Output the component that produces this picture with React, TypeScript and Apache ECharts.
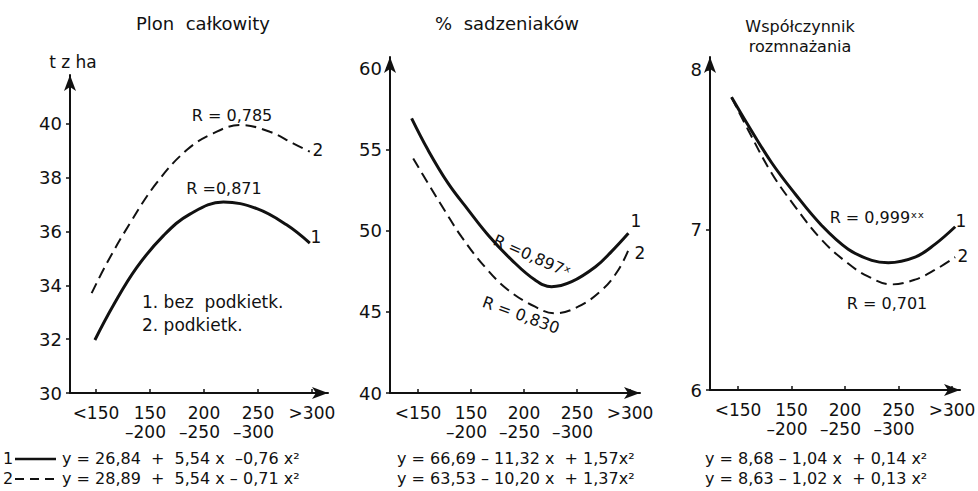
import React, { useEffect, useRef } from "react";
import * as echarts from "echarts";

// ---- data ----
const TICK_TOP = ["<150", "150", "200", "250", ">300"];
const TICK_BOTTOM = ["", "–200", "–250", "–300", ""];
const TICK_POS = [1, 2, 3, 4, 5];

// Panel 1: Plon całkowity (t z ha)
const P1_X1 = [0.98, 1.32, 1.75, 2.25, 2.74, 3.36, 3.98, 4.53, 4.96];
const P1_Y1 = [31.97, 33.25, 34.65, 35.85, 36.65, 37.1, 36.85, 36.25, 35.57];
const P1_X2 = [0.92, 1.2, 1.63, 2.12, 2.68, 3.17, 3.67, 4.22, 4.65, 4.96];
const P1_Y2 = [33.71, 34.82, 36.31, 37.8, 39.03, 39.65, 39.96, 39.71, 39.28, 38.97];
const P1_YTICKS = [30, 32, 34, 36, 38, 40];

// Panel 2: % sadzeniaków
const P2_X1 = [0.88, 1.19, 1.57, 1.95, 2.33, 2.77, 3.21, 3.52, 3.9, 4.35, 4.65, 4.97];
const P2_Y1 = [56.9, 54.95, 52.9, 51.26, 49.7, 48.18, 46.95, 46.54, 46.85, 47.77, 48.7, 49.83];
const P2_X2 = [0.91, 1.19, 1.51, 1.82, 2.26, 2.7, 3.21, 3.58, 4.02, 4.47, 4.78, 4.97];
const P2_Y2 = [54.44, 52.9, 51.2, 49.62, 47.77, 46.34, 45.31, 44.9, 45.31, 46.34, 47.57, 48.8];
const P2_YTICKS = [40, 45, 50, 55, 60];

// Panel 3: Współczynnik rozmnażania
const P3_X1 = [0.88, 1.19, 1.63, 2.07, 2.56, 3.06, 3.5, 3.81, 4.31, 4.68, 5.06];
const P3_Y1 = [7.83, 7.655, 7.42, 7.225, 7.03, 6.88, 6.81, 6.795, 6.83, 6.91, 7.02];
const P3_X2 = [0.88, 1.19, 1.63, 2.07, 2.56, 3.06, 3.43, 3.87, 4.31, 4.68, 5.06];
const P3_Y2 = [7.83, 7.625, 7.355, 7.145, 6.94, 6.79, 6.71, 6.66, 6.69, 6.75, 6.83];
const P3_YTICKS = [6, 7, 8];

const TITLES = ["Plon  całkowity", "%  sadzeniaków", "Współczynnik\nrozmnażania"];
const EQ1 = ["y = 26,84  +  5,54 x  –0,76 x²", "y = 28,89  +  5,54 x – 0,71 x²"];
const EQ2 = ["y = 66,69 – 11,32 x  + 1,57x²", "y = 63,53 – 10,20 x  + 1,37x²"];
const EQ3 = ["y = 8,68 – 1,04 x  + 0,14 x²", "y = 8,63 – 1,02 x  + 0,13 x²"];

const FONT = '"DejaVu Sans", sans-serif';
const INK = "#111";

const pairs = (xs: number[], ys: number[]) => xs.map((x, i) => [x, ys[i]]);

function App() {
  const ref = useRef<HTMLDivElement>(null);
  useEffect(() => {
    if (!ref.current) return;
    const chart = echarts.init(ref.current, null, { renderer: "svg" });

    const grids = [
      { left: 70, top: 75, width: 258, height: 318 },
      { left: 390, top: 57, width: 250, height: 336 },
      { left: 710, top: 57, width: 250, height: 333 },
    ];
    const xr = [
      [0.519, 5.297],
      [0.472, 5.189],
      [0.477, 5.15],
    ];
    const yr = [
      [30, 41.82],
      [40, 60.68],
      [6, 8.081],
    ];
    const yt = [P1_YTICKS, P2_YTICKS, P3_YTICKS];

    const axisLine = {
      show: true,
      symbol: ["none", "arrow"],
      symbolSize: [9, 16],
      lineStyle: { color: INK, width: 2 },
    };

    const xAxis = grids.map((_, i) => ({
      gridIndex: i,
      type: "value",
      min: xr[i][0],
      max: xr[i][1],
      axisLine,
      splitLine: { show: false },
      axisTick: {
        show: true,
        inside: true,
        length: 4,
        customValues: TICK_POS,
        lineStyle: { color: INK, width: 1.5 },
      },
      axisLabel: {
        customValues: TICK_POS,
        margin: 10,
        color: INK,
        fontFamily: FONT,
        fontSize: 17,
        lineHeight: 19,
        formatter: (v: number) => {
          const k = Math.round(v) - 1;
          const b = TICK_BOTTOM[k];
          return b ? TICK_TOP[k] + "\n{b|" + b + "}" : TICK_TOP[k];
        },
        rich: {
          b: {
            fontFamily: FONT,
            fontSize: 17,
            lineHeight: 19,
            color: INK,
            padding: [0, 9, 0, 0],
          },
        },
      },
    }));

    const yAxis = grids.map((_, i) => ({
      gridIndex: i,
      type: "value",
      min: yr[i][0],
      max: yr[i][1],
      axisLine,
      splitLine: { show: false },
      axisTick: {
        show: true,
        length: 4,
        customValues: yt[i],
        lineStyle: { color: INK, width: 1.5 },
      },
      axisLabel: {
        customValues: yt[i],
        margin: 8,
        color: INK,
        fontFamily: FONT,
        fontSize: 18,
      },
    }));

    const line = (i: number, data: number[][], dashed: boolean) => ({
      type: "line",
      xAxisIndex: i,
      yAxisIndex: i,
      data,
      smooth: 0.4,
      symbol: "none",
      silent: true,
      lineStyle: dashed
        ? { color: INK, width: 2, type: [11, 6] }
        : { color: INK, width: 3 },
    });

    const txt = (
      text: string,
      x: number,
      y: number,
      size: number,
      align = "center",
      rotation = 0
    ) => ({
      type: "text",
      x,
      y,
      rotation,
      silent: true,
      style: {
        text,
        fill: INK,
        font: `${size}px ${FONT}`,
        textAlign: align,
        textVerticalAlign: "middle",
        lineHeight: 20,
      },
    });
    const deg = Math.PI / 180;

    const graphic = [
      // titles
      txt(TITLES[0], 203, 23, 18),
      txt(TITLES[1], 507, 23, 18),
      txt(TITLES[2], 800, 36, 16),
      txt("t z ha", 73, 62, 17),
      // panel 1 annotations
      txt("R = 0,785", 232, 115, 16),
      txt("R =0,871", 224, 188, 16),
      txt("2", 318, 150, 17),
      txt("1", 316, 237, 17),
      txt("1. bez  podkietk.", 142, 302, 17, "left"),
      txt("2. podkietk.", 142, 325, 17, "left"),
      // panel 2 annotations
      txt("R =0,897ˣ", 532, 256, 16, "center", -24 * deg),
      txt("R = 0,830", 521, 315, 16, "center", -20 * deg),
      txt("1", 636, 221, 17),
      txt("2", 640, 253, 17),
      // panel 3 annotations
      txt("R = 0,999ˣˣ", 877, 217, 16),
      txt("R = 0,701", 887, 303, 16),
      txt("1", 961, 221, 17),
      txt("2", 963, 256, 17),
      // equations
      txt("1", 3, 458, 16, "left"),
      txt("2", 3, 478, 16, "left"),
      {
        type: "line",
        silent: true,
        shape: { x1: 15, y1: 459, x2: 56, y2: 459 },
        style: { stroke: INK, lineWidth: 2.5 },
      },
      {
        type: "line",
        silent: true,
        shape: { x1: 15, y1: 479, x2: 56, y2: 479 },
        style: { stroke: INK, lineWidth: 2, lineDash: [9, 6] },
      },
      txt(EQ1[0], 62, 458, 16, "left"),
      txt(EQ1[1], 62, 478, 16, "left"),
      txt(EQ2[0], 397, 458, 16, "left"),
      txt(EQ2[1], 397, 478, 16, "left"),
      txt(EQ3[0], 705, 458, 16, "left"),
      txt(EQ3[1], 705, 478, 16, "left"),
    ];

    chart.setOption({
      animation: false,
      backgroundColor: "#fff",
      grid: grids.map((g) => ({ ...g, containLabel: false, outerBoundsMode: "none" })),
      xAxis,
      yAxis,
      series: [
        line(0, pairs(P1_X1, P1_Y1), false),
        line(0, pairs(P1_X2, P1_Y2), true),
        line(1, pairs(P2_X1, P2_Y1), false),
        line(1, pairs(P2_X2, P2_Y2), true),
        line(2, pairs(P3_X1, P3_Y1), false),
        line(2, pairs(P3_X2, P3_Y2), true),
      ],
      graphic,
    });
    return () => chart.dispose();
  }, []);
  return (
    <div
      ref={ref}
      style={{ position: "absolute", left: 0, top: 0, width: 978, height: 491, background: "#fff" }}
    />
  );
}

export default App;
